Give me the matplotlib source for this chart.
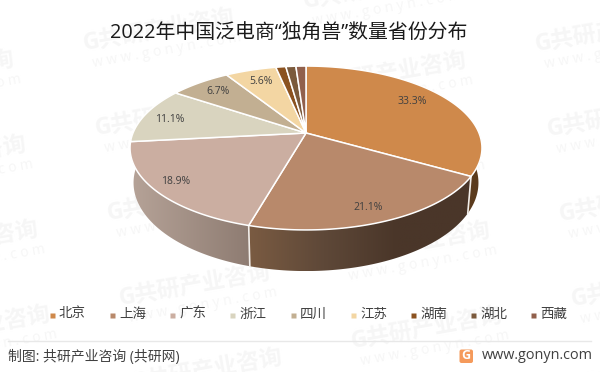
# 2022 pan e-commerce unicorns by province, tilted pie
import numpy as np
import matplotlib.pyplot as plt
from matplotlib.colors import LinearSegmentedColormap
from matplotlib.patches import Polygon, FancyBboxPatch

plt.rcParams['font.family'] = ['Open Sans', 'Noto Sans CJK SC', 'DejaVu Sans']

# Data
provinces = ["北京", "上海", "广东", "浙江", "四川", "江苏", "湖南", "湖北", "西藏"]
shares = [33.3, 21.1, 18.9, 11.1, 6.7, 5.6, 1.1, 1.1, 1.1]
labels = ["33.3%", "21.1%", "18.9%", "11.1%", "6.7%", "5.6%"]
colors = ["#CF894B", "#B8896B", "#CBAEA1", "#D9D4BF", "#C2AF92",
          "#F3D6A3", "#8B5220", "#7B5A3C", "#91604C"]

title = "2022年中国泛电商“独角兽”数量省份分布"
source = "制图: 共研产业咨询 (共研网)"
site = "www.gonyn.com"
mark = "G共研产业咨询"
mark_url = "w w w . g o n y n . c o m"

# Layout, in pixels of the 600x372 picture
CX, CY = 306, 133
A, B, S = 173, 79.2, 0.183
DEPTH = 33.6
SHRINK = 0.98  # the lower rim is a little narrower than the top face
label_pos = [(412, 101), (368, 208), (176, 182), (170, 119), (218, 91), (261, 81)]


def persp(angle):
    return 1 + S * np.cos(np.radians(angle))


def project(angle):
    # angle in degrees clockwise from the top of the disc
    t = np.radians(angle)
    u, v = np.sin(t), -np.cos(t)
    d = 1 - S * v
    return CX + A * u / d, CY + B * v / d


def lower_rim(angle):
    x, y = project(angle)
    return CX + (x - CX) * SHRINK, y + DEPTH / persp(angle)


fig = plt.figure(figsize=(6, 3.72), dpi=100)
ax = fig.add_axes([0, 0, 1, 1])
ax.set_xlim(0, 600)
ax.set_ylim(372, 0)
ax.axis('off')

# Watermark tiles
for i in range(-3, 6):
    for j in range(-2, 4):
        gx = 77 + 12 * i + 232 * j
        gy = 45 + 85 * i + 43 * j
        if -170 < gx < 600 and -10 < gy < 400:
            ax.text(gx + 82, gy - 14, mark, fontsize=16.5, fontweight='bold', color="#F6F6F6",
                    rotation=10, ha='center', va='center', zorder=0)
            ax.text(gx + 90, gy + 6, mark_url, fontsize=10, color="#F6F6F6",
                    rotation=10, ha='center', va='center', zorder=0)

edges = np.concatenate([[0], np.cumsum(shares)]) / sum(shares) * 360


def side(a0, a1, stops):
    ang = np.linspace(a0, a1, 80)
    x, y = project(ang)
    lx, ly = lower_rim(ang)
    pts = np.column_stack([np.r_[x, lx[::-1]], np.r_[y, ly[::-1]]])
    poly = Polygon(pts, closed=True, fc='none', ec='none', zorder=2)
    ax.add_patch(poly)
    cmap = LinearSegmentedColormap.from_list("s", stops)
    xmin, xmax = pts[:, 0].min(), pts[:, 0].max()
    im = ax.imshow(np.linspace(0, 1, 128).reshape(1, -1), cmap=cmap, aspect='auto',
                   extent=[xmin, xmax, pts[:, 1].max(), pts[:, 1].min()], zorder=2)
    im.set_clip_path(poly)


# Side wall
side(90, edges[1], ["#5C3C1E", "#5A3A1B"])
side(edges[1], edges[2], ["#7A5B42", "#5E4838", "#4A3629", "#4A3629"])
side(edges[2], 270, ["#B6A398", "#8E7C72"])
ax.set_xlim(0, 600)
ax.set_ylim(372, 0)

for a in (edges[1], edges[2]):
    x, y = project(a)
    lx, ly = lower_rim(a)
    ax.plot([x, lx], [y, ly], color="#F2EEEA", lw=1.2, zorder=4)

# Top face
for i, c in enumerate(colors):
    ang = np.linspace(edges[i], edges[i + 1], 80)
    x, y = project(ang)
    pts = np.vstack([[CX, CY], np.column_stack([x, y])])
    ax.add_patch(Polygon(pts, closed=True, fc=c, ec="white", lw=1.1, zorder=5))

for txt, (x, y) in zip(labels, label_pos):
    ax.text(x, y, txt, fontsize=7.5, color="#404040", ha='center', va='center', zorder=6)

ax.text(289, 34, title, fontsize=14.3, color="#1A1A1A", ha='center', va='center', zorder=6)

# Legend
for i, (name, c) in enumerate(zip(provinces, colors)):
    lx = 51.7 + i * 60.2
    ax.plot(lx, 315, marker='s', ms=3.6, color=c, mec='none', zorder=6)
    ax.text(lx + 7.3, 314, name, fontsize=9.7, color="#404040", va='center', zorder=6)

# Footer
ax.plot([8, 591], [341, 341], color="#E8E8E8", lw=1, zorder=1)
ax.text(8, 357.5, source, fontsize=10, color="#404040", va='center', zorder=6)
ax.add_patch(FancyBboxPatch((459.5, 349.5), 13.5, 13.5, boxstyle="round,pad=0,rounding_size=2",
                            fc="#F59A5B", ec='none', zorder=6))
ax.text(466.2, 355.5, "G", fontsize=9, fontweight='bold', color="white",
        ha='center', va='center', zorder=7)
ax.text(482, 355.5, site, fontsize=10.4, color="#404040", va='center', zorder=6)

fig.savefig("out.png", dpi=100)
